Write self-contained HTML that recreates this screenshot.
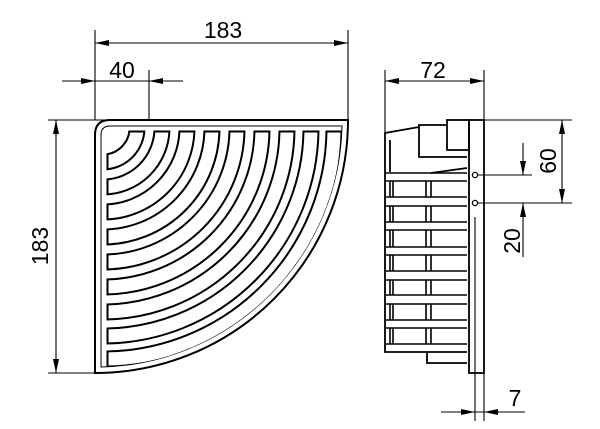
<!DOCTYPE html>
<html><head><style>html,body{margin:0;padding:0;background:#fff}svg{display:block}</style></head>
<body>
<svg width="600" height="429" viewBox="0 0 600 429" xmlns="http://www.w3.org/2000/svg" font-family="Liberation Sans, sans-serif">
<defs>
<clipPath id="cb"><rect x="106.5" y="130.5" width="300" height="300"/></clipPath>
<clipPath id="cw"><rect x="108.5" y="132.5" width="300" height="300"/></clipPath>
<clipPath id="outer"><path d="M110,126 L342,126 A247,247 0 0 1 101,367 L101,135 Q101,126 110,126Z"/></clipPath>
</defs>
<g stroke="#000" fill="none" stroke-width="1.1">
<line x1="95" y1="30" x2="95" y2="120"/><line x1="348" y1="30" x2="348" y2="120"/>
<line x1="95" y1="43" x2="348" y2="43"/>
<line x1="62" y1="81" x2="183" y2="81"/><line x1="149" y1="70" x2="149" y2="120"/>
<line x1="48" y1="120" x2="110" y2="120"/><line x1="48" y1="373" x2="97" y2="373"/>
<line x1="56" y1="120" x2="56" y2="373"/>
<line x1="385" y1="70" x2="385" y2="132"/><line x1="484" y1="70" x2="484" y2="120"/>
<line x1="385" y1="81" x2="484" y2="81"/>
<line x1="484" y1="120" x2="572" y2="120"/><line x1="478" y1="203" x2="572" y2="203"/>
<line x1="562" y1="120" x2="562" y2="203"/>
<line x1="478" y1="175" x2="532" y2="175"/>
<line x1="523" y1="143" x2="523" y2="175"/><line x1="523" y1="203" x2="523" y2="257"/>
<line x1="475" y1="217" x2="475" y2="421"/><line x1="484" y1="373" x2="484" y2="421"/>
<line x1="441" y1="412" x2="525" y2="412"/>
</g>
<g fill="#000">
<polygon points="95,43 109,40 109,46"/><polygon points="348,43 334,40 334,46"/>
<polygon points="95,81 81,78 81,84"/><polygon points="149,81 163,78 163,84"/>
<polygon points="56,120 53,134 59,134"/><polygon points="56,373 53,359 59,359"/>
<polygon points="385,81 399,78 399,84"/><polygon points="484,81 470,78 470,84"/>
<polygon points="562,120 559,134 565,134"/><polygon points="562,203 559,189 565,189"/>
<polygon points="523,175 520,161 526,161"/><polygon points="523,203 520,217 526,217"/>
<polygon points="475,412 461,409 461,415"/><polygon points="484,412 498,409 498,415"/>
</g>
<g font-size="23" fill="#000" text-anchor="middle">
<text x="223" y="38">183</text>
<text x="122" y="78">40</text>
<text x="433" y="78">72</text>
<text x="515" y="406">7</text>
<text transform="translate(48,246) rotate(-90)">183</text>
<text transform="translate(556,161) rotate(-90)">60</text>
<text transform="translate(520,241) rotate(-90)">20</text>
</g>
<g fill="none" stroke="#000">
<path d="M110,120 L348,120 A253,253 0 0 1 95,373 L95,135 Q95,120 110,120Z" stroke-width="2"/>
<path d="M110,126 L342,126 A247,247 0 0 1 101,367 L101,135 Q101,126 110,126Z" stroke-width="1"/>
<g clip-path="url(#outer)">
<g clip-path="url(#cb)" stroke-width="17">
<path d="M137,128 A34,34 0 0 1 103,162"/><path d="M162,128 A59,59 0 0 1 103,187"/>
<path d="M187,128 A84,84 0 0 1 103,212"/><path d="M212,128 A109,109 0 0 1 103,237"/>
<path d="M237,128 A134,134 0 0 1 103,262"/><path d="M262,128 A159,159 0 0 1 103,287"/>
<path d="M287,128 A184,184 0 0 1 103,312"/><path d="M311,128 A208,208 0 0 1 103,336"/>
<path d="M334,128 A231,231 0 0 1 103,359"/>
</g>
<g clip-path="url(#cw)" stroke-width="13" stroke="#fff">
<path d="M137,128 A34,34 0 0 1 103,162"/><path d="M162,128 A59,59 0 0 1 103,187"/>
<path d="M187,128 A84,84 0 0 1 103,212"/><path d="M212,128 A109,109 0 0 1 103,237"/>
<path d="M237,128 A134,134 0 0 1 103,262"/><path d="M262,128 A159,159 0 0 1 103,287"/>
<path d="M287,128 A184,184 0 0 1 103,312"/><path d="M311,128 A208,208 0 0 1 103,336"/>
<path d="M334,128 A231,231 0 0 1 103,359"/>
</g>
</g>
</g>
<g fill="none" stroke="#000" stroke-width="1.8">
<rect x="469" y="120" width="15" height="253"/>
<rect x="447" y="120" width="22" height="30"/>
<path d="M447,125 L419,125 L419,157 L467,157"/>
<path d="M419,127 L385,133 L385,352 L467,352"/>
<path d="M390,140 L390,172"/>
<path d="M427,353 L427,363 L467,363"/>
<path d="M431,173 L467,168"/>
<circle cx="475" cy="175" r="2.6" stroke-width="1.3"/><circle cx="475" cy="203" r="2.6" stroke-width="1.3"/>
<g stroke-width="1.6">
<path d="M386,173 H467 M386,181 H467 M386,197 H467 M386,206 H467 M386,222 H467 M386,230 H467 M386,247 H467 M386,255 H467 M386,271 H467 M386,280 H467 M386,295 H467 M386,304 H467 M386,320 H467 M386,328 H467 M386,344 H467"/>
<path d="M390,181 V197 M393,181 V197 M426,181 V197 M431,181 V197 M390,206 V222 M393,206 V222 M426,206 V222 M431,206 V222 M390,230 V247 M393,230 V247 M426,230 V247 M431,230 V247 M390,255 V271 M393,255 V271 M426,255 V271 M431,255 V271 M390,280 V295 M393,280 V295 M426,280 V295 M431,280 V295 M390,304 V320 M393,304 V320 M426,304 V320 M431,304 V320 M390,328 V344 M393,328 V344 M426,328 V344 M431,328 V344"/>
</g>
</g>
</svg>
</body></html>
